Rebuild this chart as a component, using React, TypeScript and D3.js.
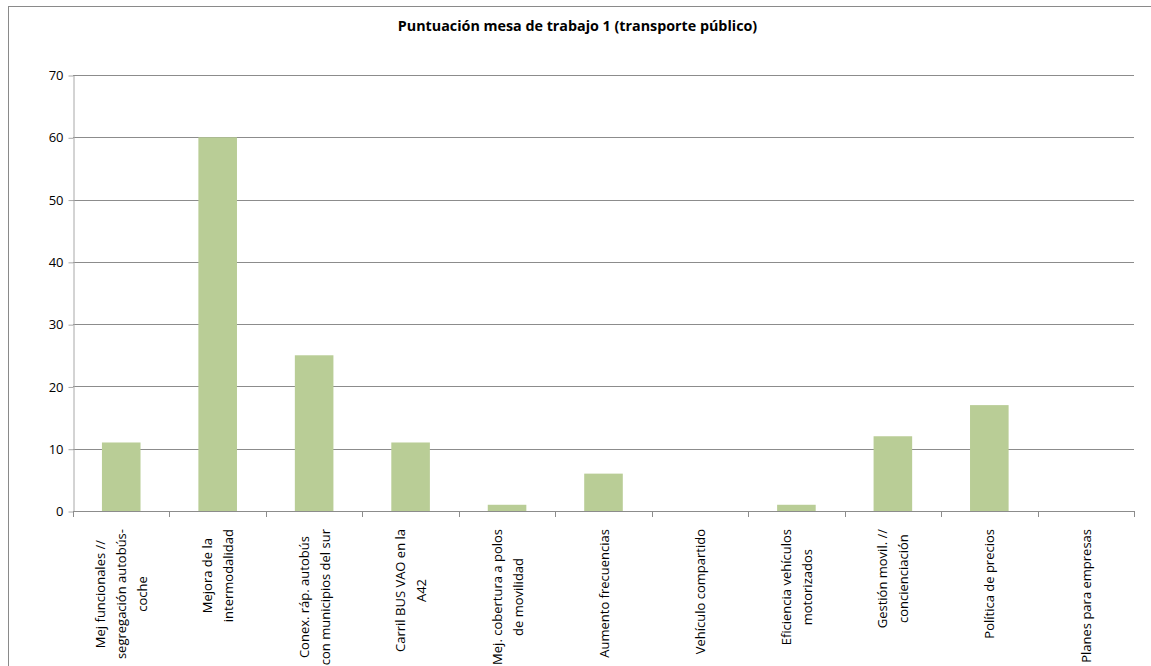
import React, { useEffect, useRef } from "react";
import * as d3 from "d3";

const title = "Puntuación mesa de trabajo 1 (transporte público)";
const categories = [
  "Mej funcionales //\nsegregación autobús-\ncoche",
  "Mejora de la\nintermodalidad",
  "Conex. ráp. autobús\ncon municipios del sur",
  "Carril BUS VAO en la\nA42",
  "Mej. cobertura a polos\nde movilidad",
  "Aumento frecuencias",
  "Vehículo compartido",
  "Eficiencia vehículos\nmotorizados",
  "Gestión movil. //\nconcienciación",
  "Política de precios",
  "Planes para empresas",
];
const values = [11, 60, 25, 11, 1, 6, 0, 1, 12, 17, 0];
const yTicks = [0, 10, 20, 30, 40, 50, 60, 70];

const FONT = "'Open Sans', Lato, sans-serif";

export default function App() {
  const ref = useRef<SVGSVGElement>(null);
  useEffect(() => {
    const W = 1151, H = 666;
    const left = 73, right = 1134, top = 75, bottom = 511;
    const svg = d3.select(ref.current);
    svg.selectAll("*").remove();

    svg.append("rect").attr("x", 8.5).attr("y", 6.5).attr("width", W + 10).attr("height", H + 10)
      .attr("fill", "#fff").attr("stroke", "#8a8a8a").attr("stroke-width", 1);

    svg.append("text").attr("x", 577.5).attr("y", 31).attr("text-anchor", "middle")
      .attr("font-family", FONT).attr("font-weight", "bold").attr("font-size", 14.3).attr("fill", "#000")
      .text(title);

    const x = d3.scaleBand<string>().domain(categories).range([left, right]).paddingInner(0.6).paddingOuter(0.3);
    const y = d3.scaleLinear().domain([0, 70]).range([bottom, top]);

    // gridlines
    svg.append("g").selectAll("line").data(yTicks.filter(v => v > 0)).join("line")
      .attr("x1", left).attr("x2", right)
      .attr("y1", d => Math.round(y(d)) + 0.5).attr("y2", d => Math.round(y(d)) + 0.5)
      .attr("stroke", "#8c8c8c").attr("stroke-width", 1);

    // bars
    svg.append("g").selectAll("rect").data(values).join("rect")
      .attr("x", (d, i) => x(categories[i])!)
      .attr("width", x.bandwidth())
      .attr("y", d => y(d))
      .attr("height", d => bottom - y(d))
      .attr("fill", "#b9cd96");

    // y axis
    const yAxis = svg.append("g").attr("transform", `translate(${left + 0.5},0.5)`)
      .call(d3.axisLeft(y).tickValues(yTicks).tickSize(5).tickSizeOuter(0).tickPadding(5));
    yAxis.select(".domain").attr("stroke", "#a8a8a8");
    yAxis.selectAll(".tick line").attr("stroke", "#a8a8a8");
    yAxis.selectAll(".tick text").attr("font-family", FONT).attr("font-size", 13).attr("fill", "#000");

    // x axis
    const step = x.step();
    const bounds = d3.range(categories.length + 1).map(i => left + i * step);
    const xAxis = svg.append("g");
    xAxis.append("line").attr("x1", left).attr("x2", right + 0.5)
      .attr("y1", bottom + 0.5).attr("y2", bottom + 0.5).attr("stroke", "#8c8c8c");
    xAxis.selectAll("line.tk").data(bounds).join("line").attr("class", "tk")
      .attr("x1", d => Math.round(d) + 0.5).attr("x2", d => Math.round(d) + 0.5)
      .attr("y1", bottom).attr("y2", bottom + 6).attr("stroke", "#8c8c8c");

    // category labels
    const lineGap = 21;
    const anchorY = 529;
    categories.forEach((cat) => {
      const lines = cat.split("\n");
      const cx = x(cat)! + x.bandwidth() / 2;
      const g = svg.append("g");
      const texts = lines.map((ln) =>
        g.append("text").attr("font-family", FONT).attr("font-size", 13).attr("fill", "#000")
          .attr("text-anchor", "middle").attr("dominant-baseline", "central").text(ln)
      );
      const maxLen = d3.max(texts, t => (t.node() as SVGTextElement).getComputedTextLength()) || 0;
      const cy = anchorY + maxLen / 2;
      texts.forEach((t, j) => {
        const lx = cx + (j - (lines.length - 1) / 2) * lineGap;
        t.attr("transform", `translate(${lx},${cy}) rotate(-90)`);
      });
    });
  }, []);
  return (
    <svg ref={ref} width={1151} height={666}
      style={{ position: "fixed", left: 0, top: 0, background: "#fff" }} />
  );
}
